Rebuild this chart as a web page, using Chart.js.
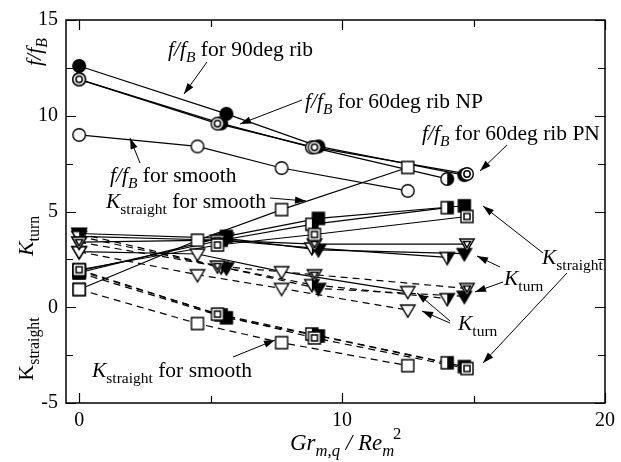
<!DOCTYPE html>
<html><head><meta charset="utf-8">
<script src="https://cdn.jsdelivr.net/npm/chart.js@4"></script>
<style>html,body{margin:0;padding:0;background:#fff}#wrap{width:621px;height:462px;position:relative}</style>
</head><body><div id="wrap"><canvas id="c"></canvas></div>
<script>
// ---- data ----
const xSmooth = [0, 4.5, 7.7, 12.5];
const x90     = [0, 5.6, 9.1, 14.65];
const xNP     = [0, 5.4, 8.85, 14.0];
const xPN     = [0, 5.26, 8.95, 14.75];

const fSmooth = [9.0, 8.4, 7.27, 6.08];
const f90     = [12.6, 10.1, 8.4, 6.9];
const fNP     = [11.9, 9.6, 8.35, 6.7];
const fPN     = [11.9, 9.59, 8.35, 6.96];

const kStrSolidSmooth = [0.93, 3.5, 5.1, 7.3];
const kStrSolid90     = [1.8, 3.7, 4.64, 5.3];
const kStrSolidNP     = [1.9, 3.5, 4.33, 5.2];
const kStrSolidPN     = [1.96, 3.25, 3.8, 4.74];

const kStrDashSmooth = [0.93, -0.85, -1.85, -3.05];
const kStrDash90     = [1.8, -0.55, -1.5, -3.1];
const kStrDashNP     = [1.9, -0.4, -1.4, -2.9];
const kStrDashPN     = [1.96, -0.36, -1.6, -3.2];

const kTurnSolidSmooth = [2.9, 2.78, 1.86, 0.82];
const kTurnSolid90     = [3.85, 3.6, 3.0, 2.8];
const kTurnSolidNP     = [3.7, 3.5, 3.1, 2.6];
const kTurnSolidPN     = [3.4, 3.5, 3.3, 3.3];

const kTurnDashSmooth = [2.9, 1.7, 0.98, -0.15];
const kTurnDash90     = [3.85, 2.05, 0.98, 0.57];
const kTurnDashNP     = [3.7, 2.1, 1.18, 0.45];
const kTurnDashPN     = [3.4, 2.15, 1.7, 0.98];

const X_TICKS = [0, 5, 10, 15, 20];
const Y_TICKS = [-5, -2.5, 0, 2.5, 5, 7.5, 10, 12.5, 15];

// ---- series list ----
const series = [
  {xs:xSmooth, ys:fSmooth, shape:'circle', kind:'open'},
  {xs:x90, ys:f90, shape:'circle', kind:'filled'},
  {xs:xNP, ys:fNP, shape:'circle', kind:'half'},
  {xs:xPN, ys:fPN, shape:'circle', kind:'double'},
  {xs:xSmooth, ys:kStrSolidSmooth, shape:'square', kind:'open'},
  {xs:x90, ys:kStrSolid90, shape:'square', kind:'filled'},
  {xs:xNP, ys:kStrSolidNP, shape:'square', kind:'half'},
  {xs:xPN, ys:kStrSolidPN, shape:'square', kind:'double'},
  {xs:xSmooth, ys:kStrDashSmooth, shape:'square', kind:'open', dash:true},
  {xs:x90, ys:kStrDash90, shape:'square', kind:'filled', dash:true},
  {xs:xNP, ys:kStrDashNP, shape:'square', kind:'half', dash:true},
  {xs:xPN, ys:kStrDashPN, shape:'square', kind:'double', dash:true},
  {xs:xSmooth, ys:kTurnSolidSmooth, shape:'tri', kind:'open'},
  {xs:x90, ys:kTurnSolid90, shape:'tri', kind:'filled'},
  {xs:xNP, ys:kTurnSolidNP, shape:'tri', kind:'half'},
  {xs:xPN, ys:kTurnSolidPN, shape:'tri', kind:'double'},
  {xs:xSmooth, ys:kTurnDashSmooth, shape:'tri', kind:'open', dash:true},
  {xs:x90, ys:kTurnDash90, shape:'tri', kind:'filled', dash:true},
  {xs:xNP, ys:kTurnDashNP, shape:'tri', kind:'half', dash:true},
  {xs:xPN, ys:kTurnDashPN, shape:'tri', kind:'double', dash:true}
];

function makeMarker(shape, kind){
  const S = 20, c = document.createElement('canvas'); c.width = S; c.height = S;
  const g = c.getContext('2d'); const m = S/2;
  const path = (sc) => {
    g.beginPath();
    if (shape === 'circle') g.arc(m, m, 6.3*sc, 0, Math.PI*2);
    else if (shape === 'square') { const h = 6.0*sc; g.rect(m-h, m-h, 2*h, 2*h); }
    else { const w = 7.2*sc, t = 5.0*sc, b = 7.2*sc; g.moveTo(m-w, m-t); g.lineTo(m+w, m-t); g.lineTo(m, m+b); g.closePath(); }
  };
  g.strokeStyle = '#000'; g.lineWidth = 1.4;
  path(1); g.fillStyle = kind === 'filled' ? '#000' : '#fff'; g.fill();
  if (kind === 'half') { g.save(); path(1); g.clip(); g.fillStyle = '#000'; g.fillRect(m, 0, m, S); g.restore(); }
  path(1); g.stroke();
  if (kind === 'double') { g.lineWidth = 1.5; path(0.5); g.stroke(); }
  return c;
}

const kindOrder = {open:4, filled:3, half:2, double:1};
const datasets = [];
series.forEach(s => {
  const pts = s.xs.map((x, i) => ({x, y: s.ys[i]}));
  datasets.push({data: pts, showLine: true, borderColor: '#000', borderWidth: 1.2,
    borderDash: s.dash ? [7,5] : [], pointRadius: 0, fill: false, order: 10});
  datasets.push({data: pts, showLine: false, pointStyle: makeMarker(s.shape, s.kind),
    pointRadius: 6, order: kindOrder[s.kind]});
});

const SERIF = '"Times New Roman", "Liberation Serif", "DejaVu Serif", serif';

function fontFor(style, size){
  const sub = style.startsWith('s');
  const it = style.endsWith('i');
  return (it ? 'italic ' : '') + (sub ? size*0.72 : size).toFixed(1) + 'px ' + SERIF;
}
function partsWidth(ctx, parts, size){
  let w = 0;
  parts.forEach(([t, st]) => { ctx.font = fontFor(st, size); w += ctx.measureText(t).width; });
  return w;
}
function drawParts(ctx, x, y, parts, size){
  ctx.textBaseline = 'alphabetic'; ctx.textAlign = 'left'; ctx.fillStyle = '#000';
  parts.forEach(([t, st]) => {
    ctx.font = fontFor(st, size);
    let dy = 0;
    if (st === 'si' || st === 'sr') dy = size*0.28;
    ctx.fillText(t, x, y + dy);
    x += ctx.measureText(t).width;
  });
}

const notes = [
  {x:168, y:56, parts:[['f/f','i'],['B','si'],[' for 90deg rib','r']]},
  {x:305, y:108, parts:[['f/f','i'],['B','si'],[' for 60deg rib NP','r']]},
  {x:422, y:140, parts:[['f/f','i'],['B','si'],[' for 60deg rib PN','r']]},
  {x:110, y:182, parts:[['f/f','i'],['B','si'],[' for smooth','r']]},
  {x:106, y:208, parts:[['K','i'],['straight','sr'],[' for smooth','r']]},
  {x:92, y:377, parts:[['K','i'],['straight','sr'],[' for smooth','r']]},
  {x:542, y:264, parts:[['K','i'],['straight','sr']]},
  {x:504, y:285, parts:[['K','i'],['turn','sr']]},
  {x:458, y:330, parts:[['K','i'],['turn','sr']]}
];
const arrows = [
  [207,62,184,94], [302,100,240,124], [507,145,480,171], [140,163,130,138],
  [270,198,306,201], [233,357,275,340], [543,253,483,206], [567,273,483,363],
  [500,267,477,256], [503,282,475,292], [450,321,417,293], [450,323,422,311]
];

function arrow(ctx, x1, y1, x2, y2){
  ctx.beginPath(); ctx.moveTo(x1, y1); ctx.lineTo(x2, y2); ctx.lineWidth = 1; ctx.stroke();
  const a = Math.atan2(y2-y1, x2-x1), L = 11, W = 3.6;
  const bx = x2 - L*Math.cos(a), by = y2 - L*Math.sin(a);
  ctx.beginPath(); ctx.moveTo(x2, y2);
  ctx.lineTo(bx + W*Math.sin(a), by - W*Math.cos(a));
  ctx.lineTo(bx - W*Math.sin(a), by + W*Math.cos(a));
  ctx.closePath(); ctx.fill();
}

const framePlugin = {
  id: 'frame',
  beforeDatasetsDraw(chart){
    const {ctx, chartArea: a, scales: {x, y}} = chart;
    ctx.save(); ctx.strokeStyle = '#000'; ctx.lineWidth = 1.5;
    ctx.strokeRect(a.left, a.top, a.right - a.left, a.bottom - a.top);
    ctx.lineWidth = 1.2;
    X_TICKS.forEach(v => {
      const p = Math.round(x.getPixelForValue(v)) + 0.5, L = v % 10 === 0 ? 10 : 7;
      ctx.beginPath(); ctx.moveTo(p, a.bottom); ctx.lineTo(p, a.bottom - L);
      ctx.moveTo(p, a.top); ctx.lineTo(p, a.top + L); ctx.stroke();
    });
    Y_TICKS.forEach(v => {
      const p = Math.round(y.getPixelForValue(v)) + 0.5, L = v % 5 === 0 ? 10 : 7;
      ctx.beginPath(); ctx.moveTo(a.left, p); ctx.lineTo(a.left + L, p);
      ctx.moveTo(a.right, p); ctx.lineTo(a.right - L, p); ctx.stroke();
    });
    ctx.restore();
  },
  afterDraw(chart){
    const ctx = chart.ctx;
    ctx.save(); ctx.fillStyle = '#000'; ctx.strokeStyle = '#000';
    notes.forEach(n => drawParts(ctx, n.x, n.y, n.parts, 21.5));
    arrows.forEach(a => arrow(ctx, ...a));
    // x axis title
    const xt = [['Gr','i'],['m,q','si'],[' / ','i'],['Re','i'],['m','si']];
    drawParts(ctx, 290, 450, xt, 23);
    const w0 = partsWidth(ctx, xt, 23);
    ctx.font = (23*0.72).toFixed(1) + 'px ' + SERIF;
    ctx.fillText('2', 290 + w0 - 1, 450 - 23*0.5);
    // rotated y labels
    const ylabs = [
      {cx:41, cy:52, parts:[['f/f','i'],['B','si']]},
      {cx:33, cy:236, parts:[['K','i'],['turn','sr']]},
      {cx:33, cy:349, parts:[['K','r'],['straight','sr']]}
    ];
    ylabs.forEach(l => {
      const w = partsWidth(ctx, l.parts, 22);
      ctx.save(); ctx.translate(l.cx, l.cy); ctx.rotate(-Math.PI/2);
      drawParts(ctx, -w/2, 0, l.parts, 22);
      ctx.restore();
    });
    ctx.restore();
  }
};

new Chart(document.getElementById('c'), {
  type: 'scatter',
  data: {datasets},
  options: {
    responsive: true, maintainAspectRatio: false, animation: false,
    layout: {padding: {top: 15, right: 8, left: 0, bottom: 0}},
    plugins: {legend: {display: false}, tooltip: {enabled: false}},
    scales: {
      x: {
        type: 'linear', min: -0.5, max: 20,
        grid: {display: false, drawTicks: false}, border: {display: false},
        afterBuildTicks: s => { s.ticks = X_TICKS.map(v => ({value: v})); },
        afterFit: s => { s.height = 59; },
        ticks: {padding: 6, color: '#000', font: {family: SERIF, size: 20},
          callback: v => (v % 10 === 0 ? String(v) : ''), maxRotation: 0, autoSkip: false}
      },
      y: {
        type: 'linear', min: -5, max: 15,
        grid: {display: false, drawTicks: false}, border: {display: false},
        afterBuildTicks: s => { s.ticks = Y_TICKS.map(v => ({value: v})); },
        afterFit: s => { s.width = 66; },
        ticks: {padding: 8, color: '#000', font: {family: SERIF, size: 20},
          callback: v => (v % 5 === 0 ? String(v) : ''), autoSkip: false}
      }
    }
  },
  plugins: [framePlugin]
});
</script></body></html>
